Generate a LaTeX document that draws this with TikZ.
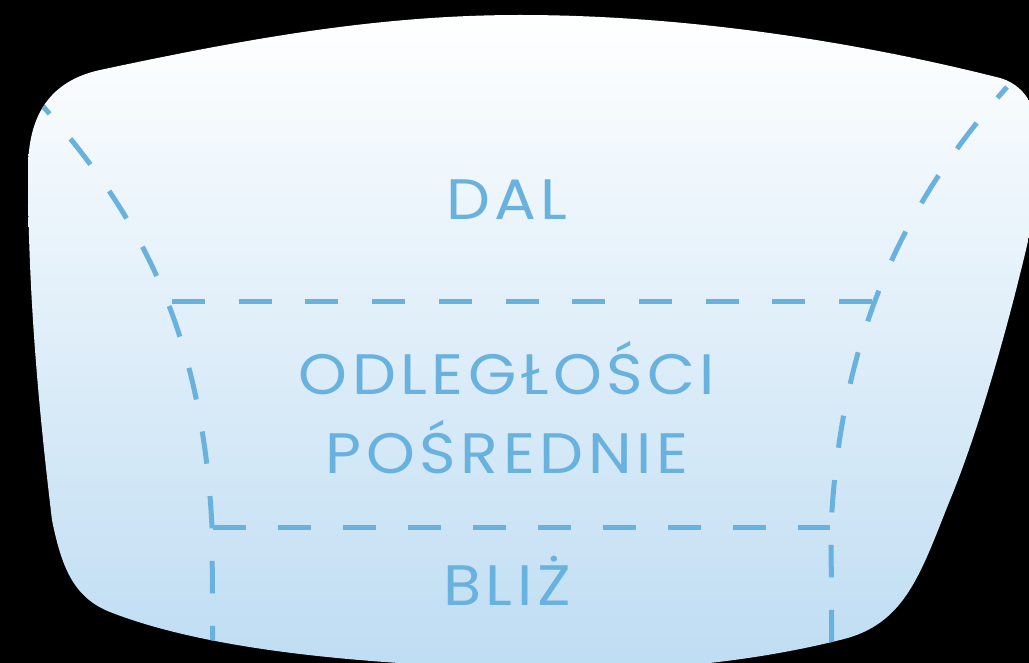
\documentclass[tikz,border=0pt]{standalone}
\usepackage{fontspec}
\newfontfamily\lensfont[LetterSpace=8,FakeStretch=1.09]{Poppins}
\definecolor{zoneblue}{HTML}{6AB2DE}
\definecolor{lensbottom}{HTML}{BFDDF3}
% outline of the spectacle lens (units: 1pt, y pointing down)
\newcommand\lensoutline{(28,170) .. controls (28,115) and (50,81) .. (100,70)
  .. controls (250,38) and (380,15) .. (520,15)
  .. controls (680,15) and (850,40) .. (1000,78)
  .. controls (1060,95) and (1040,200) .. (1029,237)
  .. controls (1005,340) and (975,440) .. (950,500)
  .. controls (920,575) and (905,625) .. (840,640)
  .. controls (780,655) and (700,668) .. (600,670)
  .. controls (400,668) and (220,655) .. (110,612)
  .. controls (75,598) and (62,570) .. (52,520)
  .. controls (40,420) and (28,300) .. cycle}
\begin{document}
\begin{tikzpicture}[x=1pt,y=-1pt,
  zoneline/.style={draw=zoneblue,line width=5pt},
  zonelabel/.style={text=zoneblue,font=\lensfont\fontsize{57}{57}\selectfont,
    anchor=base,inner sep=0pt}]
\useasboundingbox (0,0) rectangle (1029,663);
\fill[black] (0,0) rectangle (1029,663);
\begin{scope}
  \clip \lensoutline;
  \shade[top color=white,bottom color=lensbottom] (0,15) rectangle (1029,663);
  % side boundaries of the progressive corridor
  \draw[zoneline,dash pattern=on 32.5pt off 32.5pt,dash phase=18pt]
    (40,103) .. controls (138,213) and (202,327) .. (212,527) -- (213,690);
  \draw[zoneline,dash pattern=on 32.5pt off 32.5pt,dash phase=18pt]
    (1007,87) .. controls (909,197) and (841,327) .. (831,527) -- (832,690);
  % zone separators
  \draw[zoneline,dash pattern=on 33pt off 33.7pt] (172,302) -- (872,302);
  \draw[zoneline,dash pattern=on 32.5pt off 32.5pt] (213,527) -- (830,527);
\end{scope}
\node[zonelabel] (far)  at (507,220) {DAL};
\node[zonelabel] (mid1) at (507,394) {ODLEGŁOŚCI};
\node[zonelabel] (mid2) at (507,473) {POŚREDNIE};
\node[zonelabel] (near) at (507,605) {BLIŻ};
\end{tikzpicture}
\end{document}
